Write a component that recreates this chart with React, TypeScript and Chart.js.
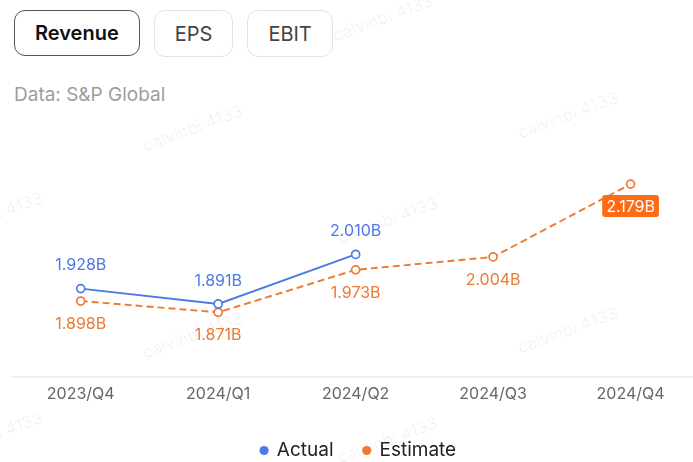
import React, { useEffect, useRef } from "react";
import { Chart, registerables } from "chart.js";

Chart.register(...registerables);

const categories = ["2023/Q4", "2024/Q1", "2024/Q2", "2024/Q3", "2024/Q4"];
const actualValues: (number | null)[] = [1.928, 1.891, 2.01, null, null];
const estimateValues: number[] = [1.898, 1.871, 1.973, 2.004, 2.179];
const tabs = ["Revenue", "EPS", "EBIT"];

const BLUE = "#4D78E6";
const ORANGE = "#EC7A32";
const BOX = "#FF6B12";
const FONT = "Inter, 'Noto Sans', sans-serif";

const watermarks = [
  { x: 330, y: 8 },
  { x: 140, y: 118 },
  { x: 515, y: 105 },
  { x: -60, y: 205 },
  { x: 335, y: 210 },
  { x: 140, y: 325 },
  { x: 515, y: 320 },
  { x: -60, y: 425 },
  { x: 335, y: 430 },
];

const labelPlugin = {
  id: "valueLabels",
  afterDatasetsDraw(chart: any) {
    const ctx = chart.ctx;
    ctx.save();
    ctx.font = `16px ${FONT}`;
    ctx.textAlign = "center";
    ctx.textBaseline = "middle";
    chart.data.datasets.forEach((ds: any, di: number) => {
      const meta = chart.getDatasetMeta(di);
      meta.data.forEach((pt: any, i: number) => {
        const v = ds.data[i];
        if (v === null || v === undefined) return;
        const text = v.toFixed(3) + "B";
        if (di === 0) {
          ctx.fillStyle = BLUE;
          ctx.fillText(text, pt.x, pt.y - 23);
        } else {
          const last = i === ds.data.length - 1;
          if (last) {
            const w = ctx.measureText(text).width + 8;
            const h = 22;
            const cx = pt.x;
            const cy = pt.y + 22;
            ctx.fillStyle = BOX;
            ctx.beginPath();
            (ctx as any).roundRect(cx - w / 2, cy - h / 2, w, h, 3);
            ctx.fill();
            ctx.fillStyle = "#ffffff";
            ctx.fillText(text, cx, cy + 1);
          } else {
            ctx.fillStyle = ORANGE;
            ctx.fillText(text, pt.x, pt.y + 23);
          }
        }
      });
    });
    ctx.restore();
  },
};

export default function App() {
  const ref = useRef<HTMLCanvasElement | null>(null);

  useEffect(() => {
    if (!ref.current) return;
    const chart = new Chart(ref.current, {
      type: "line",
      data: {
        labels: categories,
        datasets: [
          {
            label: "Actual",
            data: actualValues,
            borderColor: BLUE,
            backgroundColor: BLUE,
            borderWidth: 1.8,
            pointRadius: 4,
            pointBorderWidth: 1.7,
            pointBackgroundColor: "#ffffff",
            pointBorderColor: BLUE,
            tension: 0,
            spanGaps: false,
          },
          {
            label: "Estimate",
            data: estimateValues,
            borderColor: ORANGE,
            backgroundColor: ORANGE,
            borderWidth: 1.9,
            borderDash: [7, 4],
            pointRadius: 4,
            pointBorderWidth: 1.7,
            pointBackgroundColor: "#ffffff",
            pointBorderColor: ORANGE,
            tension: 0,
          },
        ],
      },
      options: {
        animation: false,
        responsive: false,
        maintainAspectRatio: false,
        layout: { padding: { left: 12, right: 0, top: 20, bottom: 4 } },
        scales: {
          x: {
            offset: true,
            grid: { display: false },
            border: { display: true, color: "#ececec", width: 1.5 },
            ticks: {
              color: "#666666",
              padding: 0,
              font: { size: 16, family: FONT },
            },
            afterFit: (s: any) => {
              s.height = s.height + 7;
            },
          },
          y: {
            display: false,
            min: 1.716,
            max: 2.309,
          },
        },
        plugins: {
          tooltip: { enabled: false },
          legend: {
            position: "bottom",
            labels: {
              usePointStyle: true,
              boxWidth: 6.5,
              boxHeight: 6.5,
              padding: 30,
              color: "#222222",
              font: { size: 19, family: FONT },
              generateLabels: (c: any) =>
                c.data.datasets.map((ds: any, i: number) => ({
                  text: ds.label,
                  fillStyle: ds.borderColor,
                  strokeStyle: ds.borderColor,
                  lineWidth: 0,
                  lineDash: [],
                  pointStyle: "circle",
                  hidden: false,
                  datasetIndex: i,
                  fontColor: "#222222",
                })),
            },
          },
        },
      },
      plugins: [labelPlugin],
    });
    return () => chart.destroy();
  }, []);

  return (
    <div
      style={{
        position: "fixed",
        left: 0,
        top: 0,
        width: 693,
        height: 462,
        overflow: "hidden",
        background: "#ffffff",
        fontFamily: FONT,
      }}
    >
      {watermarks.map((w, i) => (
        <span
          key={i}
          style={{
            position: "absolute",
            left: w.x,
            top: w.y,
            fontSize: 17,
            color: "rgba(0,0,0,0.06)",
            transform: "rotate(-20deg)",
            whiteSpace: "nowrap",
            pointerEvents: "none",
          }}
        >
          calvinbi 4133
        </span>
      ))}
      <div style={{ position: "absolute", left: 14, top: 10, display: "flex", gap: 14 }}>
        {tabs.map((t, i) => (
          <div
            key={t}
            style={{
              height: i === 0 ? 44 : 45,
              padding: "0 20px",
              border: i === 0 ? "1.5px solid #555555" : "1px solid #e2e2e2",
              borderRadius: 11,
              display: "flex",
              alignItems: "center",
              fontSize: 20,
              fontWeight: i === 0 ? 600 : 400,
              color: i === 0 ? "#111111" : "#444444",
              boxSizing: "content-box",
            }}
          >
            {t}
          </div>
        ))}
      </div>
      <div
        style={{
          position: "absolute",
          left: 14,
          top: 83,
          fontSize: 19,
          color: "#9d9d9d",
        }}
      >
        Data: S&amp;P Global
      </div>
      <canvas
        ref={ref}
        width={705}
        height={364}
        style={{ position: "absolute", left: 0, top: 110, width: 705, height: 364 }}
      />
    </div>
  );
}
